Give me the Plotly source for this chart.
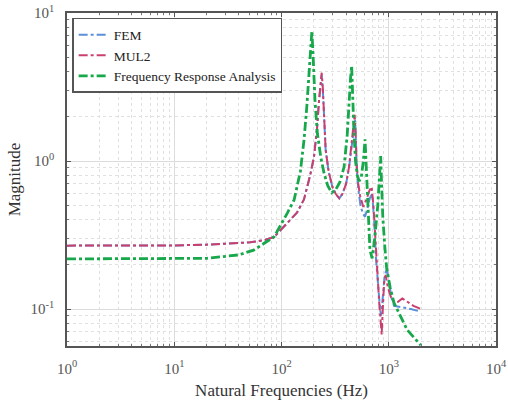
import plotly.graph_objects as go

# ---- data ----
fra_freq = [1, 2, 5, 10, 20, 40, 55, 69, 85, 113, 131, 150, 162, 172, 180, 187, 192, 197,
            205, 216, 233, 249, 270, 294, 320, 350, 383, 410, 426, 440, 451, 460, 474,
            490, 509, 530, 555, 580, 594, 601, 610, 625, 645, 668, 700, 740, 790, 820,
            841, 855, 880, 920, 955, 1030, 1120, 1300, 1490, 1990]
fra_mag = [0.218, 0.218, 0.218, 0.218, 0.22, 0.232, 0.25, 0.278, 0.306, 0.443, 0.545,
           0.85, 1.38, 2.3, 4.0, 6.0, 7.55, 5.2,
           2.6, 1.54, 1.05, 0.83, 0.68, 0.61, 0.64, 0.72, 0.91, 1.5, 2.58, 3.6, 4.4,
           2.8, 1.54, 1.0, 0.8, 0.73, 0.78, 1.0, 1.25, 1.4, 1.1, 0.7, 0.38, 0.25, 0.22,
           0.3, 0.5, 0.78, 1.08, 0.75, 0.42, 0.26, 0.19, 0.14, 0.11, 0.088, 0.072, 0.057]

mul2_freq = [1, 2, 5, 10, 20, 35, 51, 70, 85, 113, 140, 162, 185, 201, 215, 224, 231,
             237, 243, 249, 258, 275, 298, 320, 346, 370, 400, 426, 450, 470, 481, 492,
             502, 520, 541, 579, 620, 660, 692, 720, 755, 790, 812, 840, 859, 880, 905,
             935, 980, 1050, 1120, 1220, 1337, 1490, 1700, 1990]
mul2_mag = [0.268, 0.268, 0.268, 0.269, 0.272, 0.277, 0.282, 0.293, 0.306, 0.38, 0.45,
            0.55, 0.8, 1.07, 1.7, 2.58, 3.4, 3.95, 3.1, 2.0, 1.19, 0.85, 0.67, 0.6,
            0.56, 0.6, 0.7, 0.91, 1.3, 1.75, 2.05, 1.5, 0.95, 0.7, 0.58, 0.49, 0.55,
            0.63, 0.67, 0.5, 0.25, 0.16, 0.115, 0.085, 0.067, 0.1, 0.15, 0.17, 0.14,
            0.12, 0.11, 0.112, 0.118, 0.112, 0.105, 0.1]

fem_freq = [1, 2, 5, 10, 20, 35, 51, 70, 85, 113, 140, 162, 185, 201, 215, 224, 231,
            237, 243, 249, 258, 275, 298, 320, 346, 370, 400, 426, 450, 470, 485, 495,
            505, 520, 545, 575, 600, 630, 665, 700, 730, 760, 800, 830, 850, 875, 910,
            955, 1000, 1060, 1120, 1250, 1400, 1600, 1800, 1990]
fem_mag = [0.268, 0.268, 0.268, 0.269, 0.272, 0.277, 0.282, 0.293, 0.306, 0.38, 0.45,
           0.55, 0.8, 1.07, 1.7, 2.58, 3.3, 3.8, 3.0, 2.0, 1.19, 0.85, 0.67, 0.6,
           0.56, 0.6, 0.7, 0.9, 1.28, 1.7, 1.9, 1.3, 0.85, 0.65, 0.5, 0.44, 0.42,
           0.47, 0.56, 0.6, 0.4, 0.22, 0.13, 0.1, 0.09, 0.12, 0.16, 0.19, 0.15,
           0.12, 0.105, 0.104, 0.102, 0.1, 0.098, 0.096]

x_tickvals = [1, 10, 100, 1000, 10000]
x_ticktext = ["10<sup>0</sup>", "10<sup>1</sup>", "10<sup>2</sup>", "10<sup>3</sup>", "10<sup>4</sup>"]
y_tickvals = [0.1, 1, 10]
y_ticktext = ["10<sup>-1</sup>", "10<sup>0</sup>", "10<sup>1</sup>"]
minor_mult = [2, 3, 4, 5, 6, 7, 8, 9]
x_minor = [m * d for d in [1, 10, 100, 1000] for m in minor_mult]
y_minor = [m * d for d in [0.01, 0.1, 1] for m in minor_mult]

FONT = "Liberation Serif"

fig = go.Figure()
fig.add_trace(go.Scatter(x=fem_freq, y=fem_mag, mode="lines", name="FEM",
                         line=dict(color="#5b8fd8", width=2, dash="dashdot")))
fig.add_trace(go.Scatter(x=mul2_freq, y=mul2_mag, mode="lines", name="MUL2",
                         line=dict(color="#c9406f", width=2, dash="dashdot")))
fig.add_trace(go.Scatter(x=fra_freq, y=fra_mag, mode="lines", name="Frequency Response Analysis",
                         line=dict(color="#16a84a", width=2.8, dash="dashdot")))


def axis_common(minor_vals):
    return dict(
        type="log", automargin=False, ticklabeloverflow="allow",
        showline=True, linecolor="#555555", linewidth=1.5, mirror="allticks",
        ticks="inside", ticklen=4, tickcolor="#555555", ticklabelstandoff=8,
        showgrid=True, gridcolor="#dcdcdc", gridwidth=1,
        minor=dict(tickmode="array", tickvals=minor_vals, showgrid=True,
                   gridcolor="#e0e0e0", griddash="dot",
                   ticks="inside", ticklen=2, tickcolor="#777777"),
        zeroline=False,
        tickfont=dict(family=FONT, size=15, color="#555555"),
    )


fig.update_xaxes(**axis_common(x_minor), range=[0, 4], tickvals=x_tickvals, ticktext=x_ticktext,
                 title=dict(text="Natural Frequencies (Hz)", font=dict(family=FONT, size=17, color="#333333"),
                            standoff=8))
fig.update_yaxes(**axis_common(y_minor), range=[-1.25, 1], tickvals=y_tickvals, ticktext=y_ticktext,
                 title=dict(text="Magnitude", font=dict(family=FONT, size=17, color="#333333"),
                            standoff=6))

fig.update_layout(
    width=508, height=405,
    margin=dict(l=67, r=12, t=13, b=59),
    paper_bgcolor="white", plot_bgcolor="white",
    showlegend=True,
    legend=dict(x=0.012, y=0.985, xanchor="left", yanchor="top",
                bgcolor="white", bordercolor="#555555", borderwidth=1.5,
                font=dict(family=FONT, size=13.5, color="#222222"),
                tracegroupgap=0, itemwidth=30),
)

# remove the browser's default 8 px body margin so the figure fills the window
fig.write_html("out.html", config={"displayModeBar": False},
               post_script="document.body.style.margin='0';document.body.style.overflow='hidden';")
